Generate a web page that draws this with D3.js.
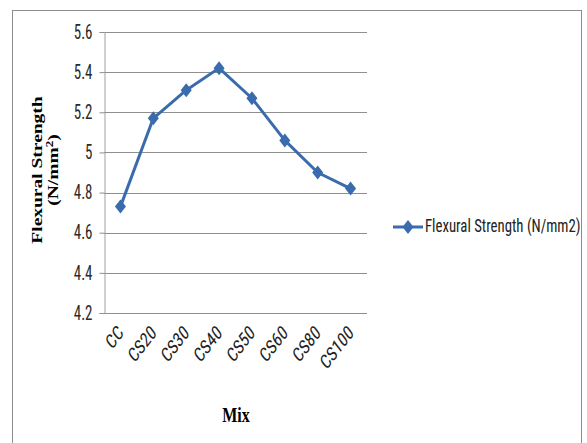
<!DOCTYPE html>
<html>
<head>
<meta charset="utf-8">
<script src="https://cdn.jsdelivr.net/npm/d3@7"></script>
<style>
  body { margin: 0; background: #fff; }
  svg { display: block; }
</style>
</head>
<body>
<svg id="chart" width="587" height="443"></svg>
<script>
// data
var mixes = ["CC", "CS20", "CS30", "CS40", "CS50", "CS60", "CS80", "CS100"];
var strength = [4.73, 5.17, 5.31, 5.42, 5.27, 5.06, 4.90, 4.82];
var yTicks = [4.2, 4.4, 4.6, 4.8, 5, 5.2, 5.4, 5.6];
var seriesName = "Flexural Strength (N/mm2)";

var svg = d3.select("#chart");
var dim = { left: 104, right: 367, top: 32, bottom: 313 };
var blue = "#3a6bad";
var narrow = "'Liberation Sans Narrow', 'Roboto Condensed', 'Liberation Sans', sans-serif";
var serif = "'Liberation Serif', 'DejaVu Serif', serif";
var stretch = 1.3; // the picture is a bit taller than wide

// outer frame
svg.append("rect")
   .attr("x", 12.5).attr("y", 10.5)
   .attr("width", 569).attr("height", 440)
   .attr("fill", "none").attr("stroke", "#8c8c8c").attr("stroke-width", 1);

var xScale = d3.scaleBand().domain(mixes).range([dim.left, dim.right]);
var yScale = d3.scaleLinear().domain([4.2, 5.6]).range([dim.bottom, dim.top]);
var cx = function(i) { return xScale(mixes[i]) + xScale.bandwidth() / 2; };

// gridlines
svg.append("g").selectAll("line")
   .data(yTicks)
   .enter()
   .append("line")
   .attr("x1", dim.left).attr("x2", dim.right)
   .attr("y1", function(d) { return Math.round(yScale(d)) + 0.5; })
   .attr("y2", function(d) { return Math.round(yScale(d)) + 0.5; })
   .attr("stroke", "#8f8f8f").attr("stroke-width", 1);

// y axis
var yAxis = d3.axisLeft(yScale).tickValues(yTicks).tickSize(5).tickFormat(d3.format("~g"));
var gy = svg.append("g")
   .attr("transform", "translate(" + (dim.left + 0.5) + ",0)")
   .call(yAxis);
gy.select(".domain").attr("stroke", "#a0a0a0");
gy.selectAll(".tick line").attr("stroke", "#8f8f8f");
gy.selectAll(".tick text")
  .attr("x", -12)
  .attr("y", 0).attr("dy", "0.32em")
  .attr("transform", "scale(1," + stretch + ")")
  .style("font-family", narrow).style("font-size", "15px").attr("fill", "#2a2a2a");

// x labels
svg.append("g").selectAll("text")
   .data(mixes)
   .enter()
   .append("text")
   .attr("transform", function(d, i) {
     return "translate(" + (cx(i) + 4) + ",334) scale(1," + stretch + ") rotate(-45)";
   })
   .attr("text-anchor", "end")
   .style("font-family", narrow).style("font-size", "15.5px").attr("fill", "#222")
   .text(function(d) { return d; });

// line
var line = d3.line()
   .x(function(d, i) { return cx(i); })
   .y(function(d) { return yScale(d); });
svg.append("path")
   .datum(strength)
   .attr("d", line)
   .attr("fill", "none").attr("stroke", blue).attr("stroke-width", 3)
   .attr("stroke-linejoin", "round");

// markers (tall diamonds)
var diamond = "M0,-7L5.5,0L0,7L-5.5,0Z";
svg.append("g").selectAll("path")
   .data(strength)
   .enter()
   .append("path")
   .attr("d", diamond)
   .attr("transform", function(d, i) {
     return "translate(" + cx(i) + "," + yScale(d) + ")";
   })
   .attr("fill", blue);

// y axis title
var yt = svg.append("text")
   .attr("transform", "translate(42,170) scale(1," + stretch + ") rotate(-90)")
   .attr("text-anchor", "middle")
   .style("font-family", serif).style("font-size", "15px").style("font-weight", "bold");
yt.append("tspan").attr("x", 0).attr("dy", 0).text("Flexural Strength");
var t2 = yt.append("tspan").attr("x", 0).attr("dy", 16).text("(N/mm");
t2.append("tspan").attr("dy", -5).style("font-size", "10px").text("2");
t2.append("tspan").attr("dy", 5).text(")");

// x axis title
svg.append("text")
   .attr("transform", "translate(236,422) scale(1," + stretch + ")")
   .attr("text-anchor", "middle")
   .style("font-family", serif).style("font-size", "16px").style("font-weight", "bold")
   .text("Mix");

// legend
svg.append("line")
   .attr("x1", 393).attr("x2", 423).attr("y1", 227).attr("y2", 227)
   .attr("stroke", blue).attr("stroke-width", 3);
svg.append("path")
   .attr("d", diamond)
   .attr("transform", "translate(408,227)")
   .attr("fill", blue);
svg.append("text")
   .attr("transform", "translate(425,232) scale(1," + stretch + ")")
   .style("font-family", narrow).style("font-size", "14.8px").attr("fill", "#222")
   .text(seriesName);
</script>
</body>
</html>
